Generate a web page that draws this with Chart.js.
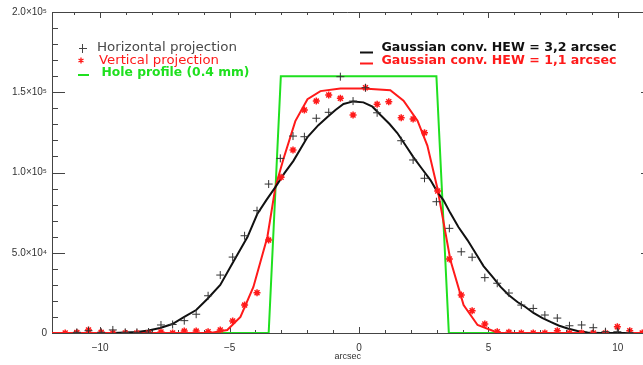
<!DOCTYPE html>
<html lang="en">
<head>
<meta charset="UTF-8">
<title>Hole profile vs Gaussian convolution</title>
<script src="https://cdn.jsdelivr.net/npm/chart.js"></script>
<style>
  html, body { margin: 0; padding: 0; background: #fff; overflow: hidden; }
  /* the plot box runs off the right edge, as in the original figure */
  #wrap { width: 643px; height: 365px; overflow: hidden; }
  canvas { display: block; }
</style>
</head>
<body>
<div id="wrap"><canvas id="profileChart" width="649" height="365"></canvas></div>
<script>
// horizontal projection (black crosses)
const horizX = [-10.90, -10.45, -9.96, -9.51, -9.03, -8.58, -8.13, -7.65, -7.20, -6.75, -6.29, -5.83,
  -5.36, -4.88, -4.42, -3.94, -3.49, -3.04, -2.55, -2.11, -1.65, -1.17, -0.72, -0.23, 0.25, 0.70,
  1.63, 2.09, 2.53, 2.99, 3.49, 3.95, 4.37, 4.86, 5.34, 5.79, 6.27, 6.73, 7.18, 7.66, 8.13, 8.60,
  9.05, 9.52, 9.98, 10.45];
const horizY = [400, 1400, 400, 1900, 400, 400, 600, 5000, 5300, 7700, 11700, 23200,
  36100, 47300, 60600, 76200, 92800, 108800, 122700, 122300, 133800, 137500, 159700, 144500, 152800, 137200,
  119800, 107800, 96400, 81800, 65200, 50600, 47200, 34500, 31000, 24900, 17400, 15300, 11200, 9300, 4500, 5000,
  3300, 800, 800, 200];

// vertical projection (red asterisks)
const vertX = [-11.35, -10.90, -10.45, -9.96, -9.51, -9.03, -8.58, -8.13, -7.65, -7.20, -6.75, -6.29,
  -5.83, -5.36, -4.88, -4.42, -3.94, -3.49, -3.01, -2.55, -2.11, -1.65, -1.17, -0.72, -0.23, 0.25,
  0.70, 1.15, 1.63, 2.09, 2.53, 3.04, 3.49, 3.95, 4.37, 4.86, 5.34, 5.79, 6.27, 6.73, 7.18, 7.66,
  8.13, 8.60, 9.05, 9.52, 9.98, 10.46, 10.94];
const vertY = [0, 300, 1900, 400, 0, 0, 0, 0, 600, 0, 1200, 1200,
  800, 1900, 7500, 17400, 25100, 57900, 97000, 114000, 138900, 144500, 148300, 146200, 135800, 152800,
  142500, 144100, 134100, 133300, 124800, 88500, 46100, 23700, 13900, 5600, 800, 400, 0, 0, 0, 1400,
  0, 0, 0, 0, 3900, 1400, 0];

// Gaussian convolution, HEW = 3,2 arcsec (black line)
const wideX = [-9.49, -9.03, -8.57, -8.14, -7.68, -7.21, -6.75, -6.29, -5.86, -5.36, -4.86, -4.31, -3.93,
  -3.58, -3.23, -2.88, -2.54, -1.99, -1.57, -1.22, -0.91, -0.60, -0.22, 0.17, 0.52, 0.83, 1.18, 1.48,
  1.79, 2.10, 2.41, 2.76, 3.03, 3.26, 3.53, 3.84, 4.19, 4.50, 4.81, 5.16, 5.47, 5.78, 6.12, 6.43,
  6.74, 7.09, 7.40, 7.71, 8.06, 8.44, 8.83, 9.33, 10.57];
const wideY = [0, 300, 600, 1600, 3100, 5600, 10000, 14300, 21200, 29900, 44200, 59800, 74100,
  82800, 90900, 99600, 107100, 122100, 129500, 134600, 138900, 142700, 144300, 143700, 141000, 135800, 130200, 124600,
  117100, 109600, 102800, 95300, 87800, 82800, 74700, 66000, 57900, 49800, 41700, 34900, 28700, 23700, 19300, 16200,
  12500, 9300, 6900, 4700, 2800, 1200, 300, 0, 0];

// Gaussian convolution, HEW = 1,1 arcsec (red line)
const narrowX = [-11.86, -5.74, -5.09, -4.58, -4.08, -3.54, -3.23, -2.92, -2.46, -1.99, -1.49, -0.72, 0.17,
  1.21, 1.72, 2.26, 2.64, 3.03, 3.53, 4.04, 4.58, 5.39, 10.99];
const narrowY = [0, 0, 1900, 10000, 28700, 59800, 90900, 108400, 132000, 145700, 150700, 152300, 152300,
  151300, 144800, 132300, 116800, 90000, 45500, 17400, 5000, 0, 0];

// hole profile (0.4 mm) (green line)
const holeX = [-11.86, -3.49, -3.02, 2.99, 3.47, 10.99];
const holeY = [0, 0, 160000, 160000, 0, 0];

const xTicks = [-10, -5, 0, 5, 10];
const yTicks = [0, 50000, 100000, 150000, 200000];
const yTickLabels = ['0', '5.0×10⁴', '1.0×10⁵', '1.5×10⁵', '2.0×10⁵'];

const axisColor = '#444';
const labelFont = 'Liberation Sans, Arial, sans-serif';
const legendFont = 'DejaVu Sans, sans-serif';
const green = '#1fe01f';
const red = '#ff1a1a';

function pairs(xs, ys) {
  return xs.map((x, i) => ({ x: x, y: ys[i] }));
}

// text squeezed/stretched to the width it has in the picture
function fitText(ctx, text, x, y, width, font, color) {
  ctx.save();
  ctx.font = font;
  const w = ctx.measureText(text).width;
  ctx.translate(x, y);
  ctx.scale(width / w, 1);
  ctx.fillStyle = color;
  ctx.textAlign = 'left';
  ctx.textBaseline = 'middle';
  ctx.fillText(text, 0, 0);
  ctx.restore();
}

// IDL-style box: ticks pointing into the plot, plus the top axis
const boxTicks = {
  id: 'boxTicks',
  beforeDatasetsDraw(chart) {
    const { ctx, chartArea: a, scales: { x, y } } = chart;
    ctx.save();
    ctx.strokeStyle = axisColor;
    ctx.lineWidth = 1;
    ctx.beginPath();
    ctx.moveTo(a.left, a.top + 0.5);
    ctx.lineTo(a.right, a.top + 0.5);
    for (let v = Math.ceil(x.min); v <= x.max; v++) {
      const px = Math.round(x.getPixelForValue(v)) + 0.5;
      const len = v % 5 === 0 ? 6 : 3;
      ctx.moveTo(px, a.bottom);
      ctx.lineTo(px, a.bottom - len);
      ctx.moveTo(px, a.top);
      ctx.lineTo(px, a.top + len);
    }
    for (let v = 0; v <= y.max; v += 10000) {
      const py = Math.round(y.getPixelForValue(v)) + 0.5;
      const major = v % 50000 === 0;
      ctx.moveTo(a.left, py);
      ctx.lineTo(a.left + (major ? 13 : 6), py);
      // the right axis is cut off; only the tips of its long ticks show
      if (major && v > 0 && v < y.max) {
        ctx.moveTo(a.right - 2.5, py);
        ctx.lineTo(a.right, py);
      }
    }
    ctx.stroke();
    ctx.restore();
  },
  afterDraw(chart) {
    const ctx = chart.ctx;
    ctx.save();
    // left legend
    ctx.lineWidth = 1;
    ctx.strokeStyle = '#444';
    ctx.beginPath();
    ctx.moveTo(79, 48.5); ctx.lineTo(87, 48.5);
    ctx.moveTo(82.5, 44); ctx.lineTo(82.5, 53);
    ctx.stroke();
    fitText(ctx, 'Horizontal projection', 97, 48, 140, '12px ' + legendFont, '#4a4a4a');

    ctx.strokeStyle = red;
    ctx.lineWidth = 1.3;
    ctx.beginPath();
    ctx.moveTo(81, 57.5); ctx.lineTo(81, 63.5);
    ctx.moveTo(78.5, 59); ctx.lineTo(83.5, 62);
    ctx.moveTo(78.5, 62); ctx.lineTo(83.5, 59);
    ctx.stroke();
    fitText(ctx, 'Vertical projection', 99, 60.5, 120, '12px ' + legendFont, red);

    ctx.strokeStyle = green;
    ctx.lineWidth = 2;
    ctx.beginPath();
    ctx.moveTo(78, 75); ctx.lineTo(89, 75);
    ctx.stroke();
    fitText(ctx, 'Hole profile (0.4 mm)', 101.5, 72.5, 148, 'bold 12px ' + legendFont, green);

    // right legend
    ctx.lineWidth = 2;
    ctx.strokeStyle = '#111';
    ctx.beginPath();
    ctx.moveTo(360, 52.5); ctx.lineTo(373, 52.5);
    ctx.stroke();
    fitText(ctx, 'Gaussian conv. HEW = 3,2 arcsec', 381.5, 47.5, 235, 'bold 12px ' + legendFont, '#111');
    ctx.strokeStyle = red;
    ctx.beginPath();
    ctx.moveTo(360, 63.5); ctx.lineTo(373, 63.5);
    ctx.stroke();
    fitText(ctx, 'Gaussian conv. HEW = 1,1 arcsec', 381.5, 60.5, 235, 'bold 12px ' + legendFont, red);
    ctx.restore();
  }
};

const ctx = document.getElementById('profileChart').getContext('2d');
new Chart(ctx, {
  type: 'scatter',
  data: {
    datasets: [
      {
        label: 'Horizontal projection',
        data: pairs(horizX, horizY),
        pointStyle: 'cross',
        pointRadius: 4,
        borderColor: '#333',
        backgroundColor: '#333',
        borderWidth: 1,
        order: 0
      },
      {
        label: 'Vertical projection',
        data: pairs(vertX, vertY),
        pointStyle: 'star',
        pointRadius: 3.5,
        borderColor: red,
        backgroundColor: red,
        borderWidth: 1.5,
        order: 1
      },
      {
        label: 'Gaussian conv. HEW = 3,2 arcsec',
        data: pairs(wideX, wideY),
        showLine: true,
        pointRadius: 0,
        borderColor: '#111',
        borderWidth: 2,
        order: 2
      },
      {
        label: 'Gaussian conv. HEW = 1,1 arcsec',
        data: pairs(narrowX, narrowY),
        showLine: true,
        pointRadius: 0,
        borderColor: red,
        borderWidth: 2,
        order: 3
      },
      {
        label: 'Hole profile (0.4 mm)',
        data: pairs(holeX, holeY),
        showLine: true,
        pointRadius: 0,
        borderColor: green,
        borderWidth: 2,
        order: 4
      }
    ]
  },
  options: {
    responsive: false,
    animation: false,
    layout: { padding: { top: 12, right: 0, left: 0, bottom: 0 } },
    plugins: {
      legend: { display: false },
      tooltip: { enabled: false }
    },
    scales: {
      x: {
        type: 'linear',
        min: -11.86,
        max: 10.99,
        afterBuildTicks: s => { s.ticks = xTicks.map(v => ({ value: v })); },
        afterFit: s => {
          s.height = 32;
          s.paddingLeft = 0;
          s.paddingRight = 0;
        },
        grid: { display: false, drawTicks: false },
        border: { display: true, color: axisColor, width: 1 },
        ticks: {
          autoSkip: false,
          maxRotation: 0,
          padding: 9,
          color: '#333',
          font: { family: labelFont, size: 10 },
          callback: v => (v < 0 ? '−' + Math.abs(v) : String(v))
        },
        title: {
          display: true,
          text: 'arcsec',
          color: '#333',
          font: { family: labelFont, size: 9 },
          padding: { top: 0, bottom: 3 }
        }
      },
      y: {
        min: 0,
        max: 200000,
        afterBuildTicks: s => { s.ticks = yTicks.map(v => ({ value: v })); },
        afterFit: s => { s.width = 52; },
        grid: { display: false, drawTicks: false },
        border: { display: true, color: axisColor, width: 1 },
        ticks: {
          padding: 5,
          color: '#333',
          font: { family: labelFont, size: 10 },
          callback: (v, i) => yTickLabels[i]
        }
      }
    }
  },
  plugins: [boxTicks]
});
</script>
</body>
</html>
